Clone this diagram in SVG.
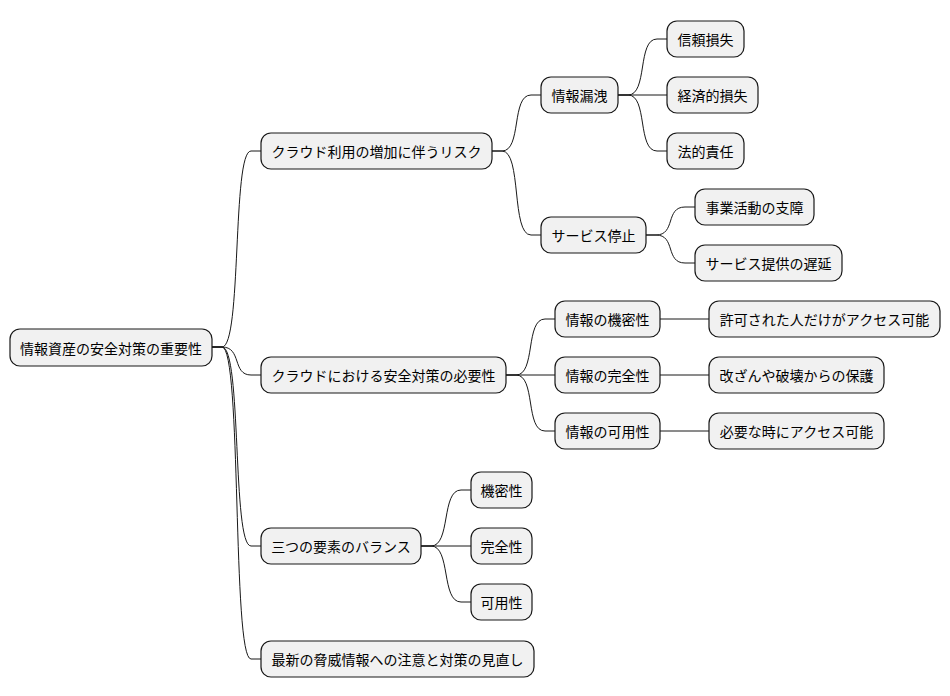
<svg xmlns="http://www.w3.org/2000/svg" width="950" height="696" viewBox="0 0 950 696">
<style>
rect{fill:#F1F1F1;stroke:#181818;stroke-width:1.2}
text{font-family:"Noto Sans CJK JP","Noto Sans",sans-serif;font-size:14px;fill:#000;text-anchor:middle;dominant-baseline:central}
.c path{fill:none;stroke:#181818;stroke-width:1}
</style>
<rect x="0" y="0" width="950" height="696" style="fill:#fff;stroke:none"/>
<g class="c">
<path d="M212,347 L222,347 C242,347 232,151 251,151 L261,151"/>
<path d="M212,347 L222,347 C242,347 232,375 251,375 L261,375"/>
<path d="M212,347 L222,347 C242,347 232,546 251,546 L261,546"/>
<path d="M212,347 L222,347 C242,347 232,659 251,659 L261,659"/>
<path d="M492,151 L502,151 C522,151 511,95 531,95 L541,95"/>
<path d="M492,151 L502,151 C522,151 511,235 531,235 L541,235"/>
<path d="M618,95 L628,95 C648,95 637,39 657,39 L667,39"/>
<path d="M618,95 L667,95"/>
<path d="M618,95 L628,95 C648,95 637,151 657,151 L667,151"/>
<path d="M646,235 L656,235 C676,235 665,207 685,207 L695,207"/>
<path d="M646,235 L656,235 C676,235 665,263 685,263 L695,263"/>
<path d="M506,375 L516,375 C536,375 525,319 545,319 L555,319"/>
<path d="M506,375 L555,375"/>
<path d="M506,375 L516,375 C536,375 525,431 545,431 L555,431"/>
<path d="M660,319 L709,319"/>
<path d="M660,375 L709,375"/>
<path d="M660,431 L709,431"/>
<path d="M421,546 L431,546 C451,546 441,490 461,490 L471,490"/>
<path d="M421,546 L471,546"/>
<path d="M421,546 L431,546 C451,546 441,602 461,602 L471,602"/>
</g>
<g id="root"><rect x="10" y="329" width="202" height="37" rx="10"/><text x="111" y="347.5">情報資産の安全対策の重要性</text></g>
<g id="n1"><rect x="261" y="133" width="231" height="36" rx="10"/><text x="376.5" y="151">クラウド利用の増加に伴うリスク</text></g>
<g id="n2"><rect x="261" y="357" width="245" height="36" rx="10"/><text x="383.5" y="375">クラウドにおける安全対策の必要性</text></g>
<g id="n3"><rect x="261" y="528" width="160" height="36" rx="10"/><text x="341" y="546">三つの要素のバランス</text></g>
<g id="n4"><rect x="261" y="641" width="273" height="36" rx="10"/><text x="397.5" y="659">最新の脅威情報への注意と対策の見直し</text></g>
<g id="n11"><rect x="541" y="77" width="77" height="36" rx="10"/><text x="579.5" y="95">情報漏洩</text></g>
<g id="n12"><rect x="541" y="217" width="105" height="36" rx="10"/><text x="593.5" y="235">サービス停止</text></g>
<g id="n111"><rect x="667" y="21" width="77" height="36" rx="10"/><text x="705.5" y="39">信頼損失</text></g>
<g id="n112"><rect x="667" y="77" width="91" height="36" rx="10"/><text x="712.5" y="95">経済的損失</text></g>
<g id="n113"><rect x="667" y="133" width="77" height="36" rx="10"/><text x="705.5" y="151">法的責任</text></g>
<g id="n121"><rect x="695" y="189" width="119" height="36" rx="10"/><text x="754.5" y="207">事業活動の支障</text></g>
<g id="n122"><rect x="695" y="245" width="147" height="36" rx="10"/><text x="768.5" y="263">サービス提供の遅延</text></g>
<g id="n21"><rect x="555" y="301" width="105" height="36" rx="10"/><text x="607.5" y="319">情報の機密性</text></g>
<g id="n22"><rect x="555" y="357" width="105" height="36" rx="10"/><text x="607.5" y="375">情報の完全性</text></g>
<g id="n23"><rect x="555" y="413" width="105" height="36" rx="10"/><text x="607.5" y="431">情報の可用性</text></g>
<g id="n211"><rect x="709" y="301" width="231" height="36" rx="10"/><text x="824.5" y="319">許可された人だけがアクセス可能</text></g>
<g id="n221"><rect x="709" y="357" width="175" height="36" rx="10"/><text x="796.5" y="375">改ざんや破壊からの保護</text></g>
<g id="n231"><rect x="709" y="413" width="175" height="36" rx="10"/><text x="796.5" y="431">必要な時にアクセス可能</text></g>
<g id="n31"><rect x="471" y="472" width="61" height="36" rx="10"/><text x="501.5" y="490">機密性</text></g>
<g id="n32"><rect x="471" y="528" width="61" height="36" rx="10"/><text x="501.5" y="546">完全性</text></g>
<g id="n33"><rect x="471" y="584" width="61" height="36" rx="10"/><text x="501.5" y="602">可用性</text></g>
</svg>
